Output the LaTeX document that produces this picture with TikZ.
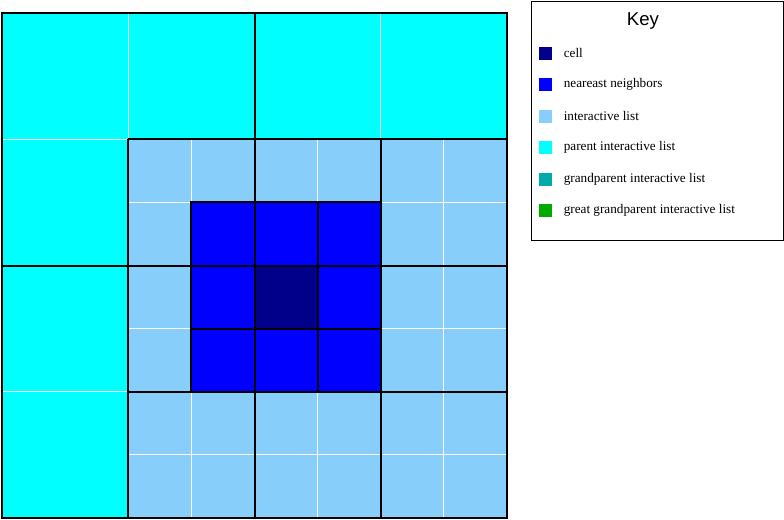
\documentclass[tikz,border=0pt]{standalone}
\usepackage{fontspec}
\setmainfont{Liberation Serif}
\newfontfamily\keyfont{Liberation Sans}
\usetikzlibrary{positioning}
\definecolor{cellblue}{RGB}{0, 0, 139}
\definecolor{nearblue}{RGB}{0, 0, 255}
\definecolor{ilistblue}{RGB}{135, 206, 250}
\definecolor{parentcyan}{RGB}{0, 255, 255}
\definecolor{gparentteal}{RGB}{0, 170, 170}
\definecolor{ggparentgreen}{RGB}{0, 170, 0}

\begin{document}
\begin{tikzpicture}[
  x=0.5pt, y=-0.5pt,
  thinline/.style={draw=white, line width=0.5pt},
  boldline/.style={draw=black, line width=1pt},
  keybox/.style={rectangle, draw=black, line width=0.5pt, fill=white, minimum width=126pt, minimum height=119.5pt, inner sep=0pt},
  keysq/.style={rectangle, minimum size=6.5pt, inner sep=0pt},
  keytext/.style={anchor=west, inner sep=0pt, font=\fontsize{6.6}{8}\selectfont}
]
\useasboundingbox (0,0) rectangle (784,520);

% quadtree, one unit = one fine cell
\begin{scope}[shift={(2,13)}, x=31.5625pt, y=-31.5625pt]
  % parent interactive list
  \fill[parentcyan] (0,0) rectangle (8,2);
  \fill[parentcyan] (0,2) rectangle (2,8);
  % interactive list
  \fill[ilistblue] (2,2) rectangle (8,8);
  % white separators
  \foreach \k in {2,4,6}
    \draw[thinline] (\k,0) -- (\k,8) (0,\k) -- (8,\k);
  \foreach \k in {3,5,7}
    \draw[thinline] (\k,2) -- (\k,8) (2,\k) -- (8,\k);
  % level-2 boxes and quadrants
  \foreach \k in {2,4,6}
    \draw[boldline] (\k,2) -- (\k,8) (2,\k) -- (8,\k);
  \draw[boldline] (4,0) -- (4,8) (0,4) -- (8,4);
  % nearest neighbors and cell
  \foreach \i in {3,4,5}
    \foreach \j in {3,4,5}
      \filldraw[fill=nearblue, boldline] (\i,\j) rectangle ++(1,1);
  \filldraw[fill=cellblue, boldline] (4,4) rectangle ++(1,1);
  \draw[boldline] (0,0) rectangle (8,8);
\end{scope}

% key
\node[keybox] (key) at (657,120.5) {};
\node[font=\keyfont\fontsize{9.3}{11}\selectfont, inner sep=0pt] (keytitle) at (643,21) {Key};
\foreach \col/\lab [count=\n] in {cellblue/cell, nearblue/neareast neighbors, ilistblue/interactive list, parentcyan/parent interactive list, gparentteal/grandparent interactive list, ggparentgreen/great grandparent interactive list} {
  \node[keysq, fill=\col] (sq\n) at (545.5, {53+(\n-1)*31.5}) {};
  \node[keytext, right=5.5pt of sq\n] (lab\n) {\lab};
}

\end{tikzpicture}
\end{document}
